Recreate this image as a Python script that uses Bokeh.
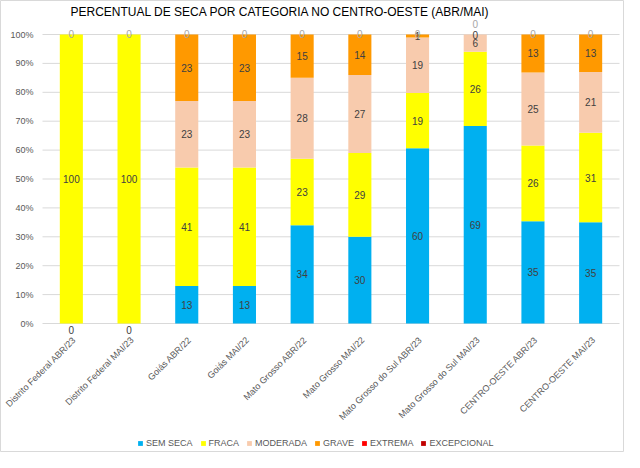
import numpy as np
from bokeh.plotting import figure
from bokeh.models import ColumnDataSource, Legend, LegendItem, Range1d
from bokeh.core.properties import value
from bokeh.embed import file_html
from bokeh.resources import INLINE

categories = ["Distrito Federal ABR/23", "Distrito Federal MAI/23", "Goiás ABR/22", "Goiás MAI/22",
              "Mato Grosso ABR/22", "Mato Grosso MAI/22", "Mato Grosso do Sul ABR/23",
              "Mato Grosso do Sul MAI/23", "CENTRO-OESTE ABR/23", "CENTRO-OESTE MAI/23"]
series_names = ["SEM SECA", "FRACA", "MODERADA", "GRAVE", "EXTREMA", "EXCEPCIONAL"]
sem_seca = [0, 0, 13, 13, 34, 30, 60, 69, 35, 35]
fraca = [100, 100, 41, 41, 23, 29, 19, 26, 26, 31]
moderada = [0, 0, 23, 23, 28, 27, 19, 6, 25, 21]
grave = [0, 0, 23, 23, 15, 14, 1, 0, 13, 13]
extrema = [0, 0, 0, 0, 0, 0, 0, 0, 0, 0]
excepcional = [0, 0, 0, 0, 0, 0, 0, 0, 0, 0]
colors = ["#00B0F0", "#FFFF00", "#F8CBAD", "#FF9900", "#FF0000", "#C00000"]
y_ticks = [0, 0.1, 0.2, 0.3, 0.4, 0.5, 0.6, 0.7, 0.8, 0.9, 1.0]
y_tick_labels = ["0%", "10%", "20%", "30%", "40%", "50%", "60%", "70%", "80%", "90%", "100%"]
title_text = "PERCENTUAL DE SECA POR CATEGORIA NO CENTRO-OESTE (ABR/MAI)"

FONT = "Liberation Sans"
W, H = 624, 452
PLOT_L, PLOT_R = 42, 619      # plot area, px from the figure's left
PLOT_T, PLOT_B = 34, 323      # 100% line and 0% line, px from the figure's top

n = len(categories)
step = (PLOT_R - PLOT_L) / n
unit = PLOT_B - PLOT_T

data = np.array([sem_seca, fraca, moderada, grave, extrema, excepcional], dtype=float)
totals = data.sum(axis=0)
pct = data / totals
tops = np.cumsum(pct, axis=0)
bottoms = tops - pct
xpos = np.arange(n) + 0.5

p = figure(frame_width=W, frame_height=H,
           x_range=Range1d(-PLOT_L / step, (W - PLOT_L) / step),
           y_range=Range1d(-(H - PLOT_B) / unit, PLOT_B / unit),
           output_backend="svg", toolbar_location=None,
           x_axis_location=None, y_axis_location=None, min_border=0)
p.xgrid.visible = False
p.ygrid.visible = False
p.outline_line_color = "#D9D9D9"
p.background_fill_color = "white"
p.border_fill_color = "white"

# gridlines
p.segment(x0=np.zeros(len(y_ticks)), x1=np.full(len(y_ticks), n), y0=y_ticks, y1=y_ticks,
          line_color="#D9D9D9", line_width=1)

# y tick labels
p.text(x=np.zeros(len(y_ticks)), y=y_ticks, text=y_tick_labels, x_offset=-9,
       text_align="right", text_baseline="middle", text_font=value(FONT),
       text_font_size="9px", text_color="#595959")

renderers = []
for i, name in enumerate(series_names):
    r = p.vbar(x=xpos, bottom=bottoms[i], top=tops[i], width=0.4,
               fill_color=colors[i], line_color=None)
    renderers.append(r)

# data labels
lx, ly, lt, lc, loff = [], [], [], [], []
for j in range(n):
    for i, name in enumerate(series_names):
        v = data[i, j]
        if v > 0:
            lx.append(xpos[j]); ly.append((bottoms[i, j] + tops[i, j]) / 2); lt.append(str(int(v)))
            lc.append("#404040"); loff.append(0)
        else:
            if i == 0:
                lx.append(xpos[j]); ly.append(0.0); lt.append("0"); lc.append("#404040"); loff.append(6)
            elif i == 3 and data[2, j] > 0:
                lx.append(xpos[j]); ly.append(tops[i, j]); lt.append("0"); lc.append("#404040"); loff.append(0)
            elif i == 5:
                shifted = data[3, j] == 0 and data[2, j] > 0
                lx.append(xpos[j]); ly.append(tops[i, j]); lt.append("0"); lc.append("#A6A6A6")
                loff.append(-11 if shifted else -1)
src = ColumnDataSource(dict(x=lx, y=ly, text=lt, color=lc, off=loff))
p.text(x="x", y="y", text="text", text_color="color", y_offset="off", source=src,
       text_align="center", text_baseline="middle", text_font=value(FONT), text_font_size="10px")

# rotated category labels
lab_src = ColumnDataSource(dict(x=xpos, y=np.zeros(n), text=categories))
p.text(x="x", y="y", text="text", source=lab_src, angle=np.pi / 4, x_offset=3, y_offset=15,
       text_align="right", text_baseline="middle", text_font=value(FONT),
       text_font_size="9px", text_color="#595959")

# title
p.text(x=[0], y=[1.0], text=[title_text], x_offset=28, y_offset=-23,
       text_align="left", text_baseline="middle", text_font=value(FONT),
       text_font_size="12px", text_color="#000000")

items = [LegendItem(label=nm, renderers=[r]) for nm, r in zip(series_names, renderers)]
legend = Legend(items=items, orientation="horizontal", location=(137, 4),
                label_text_font=FONT, label_text_font_size="9px", label_text_color="#595959",
                glyph_width=6, glyph_height=6, label_standoff=3, spacing=7, label_height=9,
                background_fill_alpha=0, border_line_color=None, padding=0, margin=0)
p.add_layout(legend, "center")

open("out.html", "w").write(file_html(p, INLINE))
